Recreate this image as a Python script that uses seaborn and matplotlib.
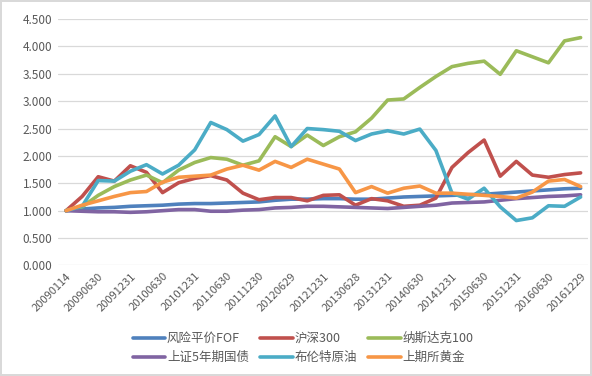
import pandas as pd
import matplotlib.pyplot as plt
import seaborn as sns

sns.set_theme(style='white')
plt.rcParams['font.family'] = ['Noto Sans CJK SC', 'DejaVu Sans']

tick_labels = ['20090114', '20090630', '20091231', '20100630', '20101231', '20110630',
               '20111230', '20120629', '20121231', '20130628', '20131231', '20140630',
               '20141231', '20150630', '20151231', '20160630', '20161229']

names = ['风险平价FOF', '沪深300', '纳斯达克100', '上证5年期国债', '布伦特原油', '上期所黄金']
colors = ['#4F81BD', '#C0504D', '#9BBB59', '#8064A2', '#4BACC6', '#F79646']

fof = [1.00, 1.03, 1.05, 1.06, 1.08, 1.09, 1.10, 1.12, 1.13, 1.13, 1.14, 1.15, 1.16, 1.19, 1.21,
       1.21, 1.22, 1.22, 1.21, 1.21, 1.23, 1.25, 1.26, 1.27, 1.28, 1.29, 1.30, 1.32, 1.34, 1.36,
       1.38, 1.40, 1.41]
hs300 = [1.00, 1.26, 1.62, 1.54, 1.82, 1.70, 1.33, 1.51, 1.59, 1.64, 1.56, 1.32, 1.20, 1.24, 1.24,
         1.18, 1.28, 1.29, 1.10, 1.22, 1.18, 1.08, 1.10, 1.23, 1.79, 2.06, 2.29, 1.63, 1.90, 1.65,
         1.61, 1.66, 1.69]
nasdaq = [1.00, 1.07, 1.28, 1.44, 1.56, 1.65, 1.51, 1.74, 1.88, 1.97, 1.94, 1.83, 1.91, 2.35, 2.17,
          2.38, 2.19, 2.35, 2.44, 2.69, 3.02, 3.04, 3.25, 3.45, 3.63, 3.69, 3.73, 3.49, 3.92, 3.81,
          3.70, 4.10, 4.16]
bond5y = [1.00, 0.99, 0.98, 0.98, 0.97, 0.98, 1.00, 1.02, 1.02, 0.99, 0.99, 1.01, 1.02, 1.05, 1.06,
          1.08, 1.08, 1.07, 1.06, 1.05, 1.04, 1.06, 1.08, 1.10, 1.14, 1.15, 1.16, 1.19, 1.22, 1.24,
          1.26, 1.27, 1.29]
brent = [1.00, 1.08, 1.55, 1.54, 1.72, 1.84, 1.67, 1.83, 2.11, 2.61, 2.48, 2.27, 2.39, 2.73, 2.17,
         2.50, 2.48, 2.45, 2.28, 2.40, 2.46, 2.40, 2.49, 2.10, 1.32, 1.21, 1.41, 1.07, 0.82, 0.87,
         1.09, 1.08, 1.25]
gold = [1.00, 1.10, 1.18, 1.26, 1.33, 1.35, 1.52, 1.61, 1.63, 1.65, 1.76, 1.83, 1.74, 1.90, 1.79,
        1.94, 1.85, 1.76, 1.33, 1.44, 1.32, 1.41, 1.45, 1.32, 1.32, 1.30, 1.28, 1.26, 1.23, 1.34,
        1.54, 1.57, 1.44]

series = [fof, hs300, nasdaq, bond5y, brent, gold]
rows = []
for name, vals in zip(names, series):
    for i, v in enumerate(vals):
        rows.append({'idx': i, 'value': v, 'series': name})
df = pd.DataFrame(rows)

fig = plt.figure(figsize=(5.92, 3.76), dpi=100)
fig.patch.set_edgecolor('#D9D9D9')
fig.patch.set_linewidth(1.5)
ax = fig.add_axes([0.098, 0.294, 0.895, 0.6555])

sns.lineplot(data=df, x='idx', y='value', hue='series', hue_order=names,
             palette=colors, linewidth=2.6, ax=ax, legend=False)

ax.set_ylim(0, 4.5)
ax.set_xlim(-0.5, 32.45)
ax.set_yticks([i * 0.5 for i in range(10)])
ax.set_yticklabels([f'{i * 0.5:.3f}' for i in range(10)], fontsize=8.5, color='#595959')
ax.set_xticks(range(0, 33, 2))
ax.set_xticklabels(tick_labels, rotation=45, ha='right', rotation_mode='anchor',
                   fontsize=8, color='#595959')
ax.tick_params(axis='both', length=0, pad=4)
ax.grid(axis='y', color='#D9D9D9', linewidth=0.9)
ax.set_axisbelow(True)
for s in ax.spines.values():
    s.set_visible(False)
ax.set_xlabel('')
ax.set_ylabel('')

handles = [plt.Line2D([], [], color=c, linewidth=2.6) for c in colors]
order = [0, 3, 1, 4, 2, 5]
fig.legend([handles[i] for i in order], [names[i] for i in order], ncol=3,
           loc='center left', bbox_to_anchor=(0.205, 0.074), frameon=False,
           fontsize=9, handlelength=2.6, handletextpad=0.15, columnspacing=0.9,
           labelspacing=0.5, labelcolor='#595959')

fig.savefig('out.png', dpi=100)
